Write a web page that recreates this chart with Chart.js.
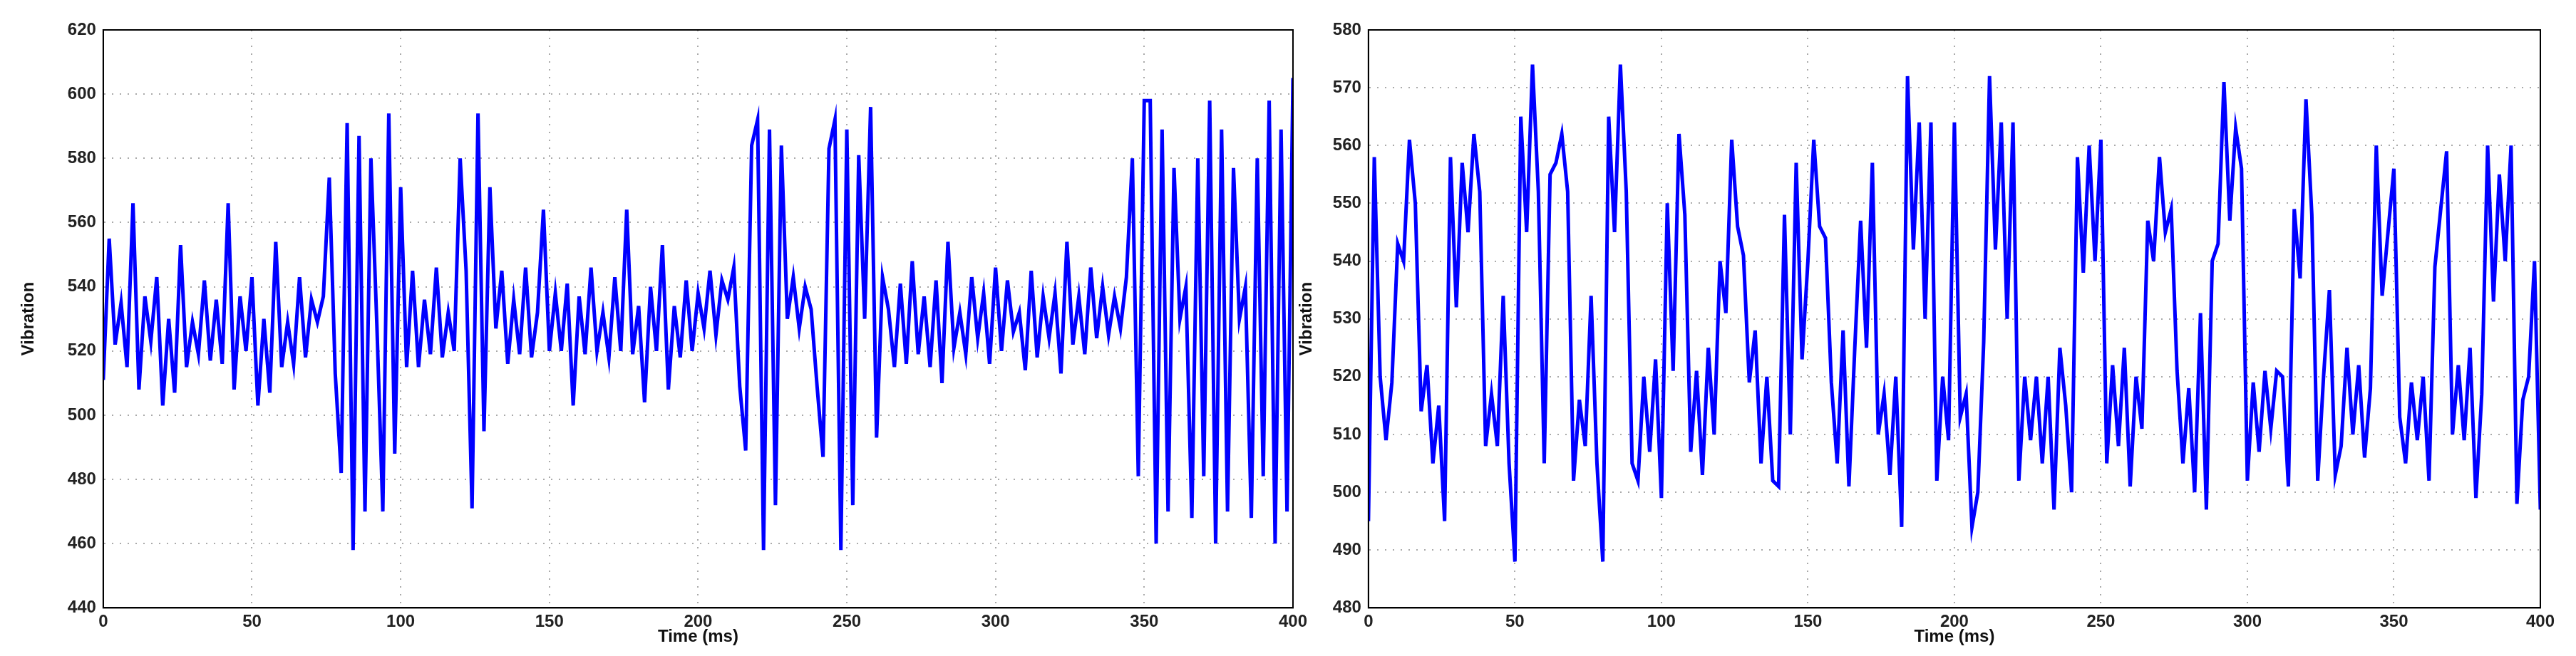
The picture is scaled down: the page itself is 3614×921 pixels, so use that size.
<!DOCTYPE html>
<html><head><meta charset="utf-8">
<script src="https://cdn.jsdelivr.net/npm/chart.js@4/dist/chart.umd.min.js"></script>
<style>body{margin:0;background:#fff;width:3614px;height:921px;overflow:hidden}
.c{position:absolute;top:0;height:921px}</style></head><body>
<div class="c" style="left:0;width:1840px"><canvas id="a"></canvas></div>
<div class="c" style="left:1790px;width:1824px"><canvas id="b"></canvas></div>
<script>
const timeMs=[0,2,4,6,8,10,12,14,16,18,20,22,24,26,28,30,32,34,36,38,40,42,44,46,48,50,52,54,56,58,60,62,64,66,68,70,72,74,76,78,80,82,84,86,88,90,92,94,96,98,100,102,104,106,108,110,112,114,116,118,120,122,124,126,128,130,132,134,136,138,140,142,144,146,148,150,152,154,156,158,160,162,164,166,168,170,172,174,176,178,180,182,184,186,188,190,192,194,196,198,200,202,204,206,208,210,212,214,216,218,220,222,224,226,228,230,232,234,236,238,240,242,244,246,248,250,252,254,256,258,260,262,264,266,268,270,272,274,276,278,280,282,284,286,288,290,292,294,296,298,300,302,304,306,308,310,312,314,316,318,320,322,324,326,328,330,332,334,336,338,340,342,344,346,348,350,352,354,356,358,360,362,364,366,368,370,372,374,376,378,380,382,384,386,388,390,392,394,396,398,400];
const vibLeft=[511,555,522,535,515,566,508,537,523,543,503,530,507,553,515,529,519,542,517,536,516,566,508,537,520,543,503,530,507,554,515,529,516,543,518,536,529,537,574,513,482,591,458,587,470,580,528,470,594,488,571,515,545,515,536,519,546,518,532,520,580,545,471,594,495,571,527,545,516,536,519,546,518,532,564,520,538,520,541,503,537,519,546,520,532,518,543,520,564,519,534,504,540,520,553,508,534,518,542,520,538,527,545,525,542,536,546,509,489,584,592,458,589,472,584,530,543,527,540,533,509,487,583,592,458,589,472,581,530,596,493,543,533,515,541,516,548,519,537,515,542,510,554,521,532,519,543,524,538,516,546,520,542,526,532,514,545,518,537,524,538,513,554,522,537,519,546,524,540,525,537,527,543,580,481,598,598,460,589,470,577,530,540,468,580,481,598,460,589,470,577,530,540,468,580,481,598,460,589,470,605];
const vibRight=[495,558,520,509,519,543,540,561,550,514,522,505,515,495,558,532,557,545,562,552,508,517,508,534,505,488,565,545,574,552,505,555,557,562,552,502,516,508,534,505,488,565,545,574,552,505,502,520,507,523,499,550,521,562,548,507,521,503,525,510,540,531,561,546,541,519,528,505,520,502,501,548,510,557,523,540,561,546,544,519,505,528,501,525,547,525,557,510,517,503,520,494,572,542,564,530,564,502,520,509,564,513,517,494,500,526,572,542,564,530,564,502,520,509,520,505,520,497,525,515,500,558,538,560,540,561,505,522,508,525,501,520,511,547,540,558,545,549,521,505,518,500,531,497,540,543,571,547,563,556,502,519,507,521,511,521,520,501,549,537,568,548,502,520,535,503,508,525,510,522,506,518,560,534,545,556,513,505,519,509,520,502,539,549,559,510,522,509,525,499,517,560,533,555,540,560,498,516,520,540,497];
const yTicksLeft=[440,460,480,500,520,540,560,580,600,620];
const yTicksRight=[480,490,500,510,520,530,540,550,560,570,580];
const xTicks=[0,50,100,150,200,250,300,350,400];
const font={family:'"Liberation Sans", Arial, sans-serif',size:24,weight:'bold'};
function mk(id,vals,ymin,ymax,padL,padR,tpad){
 new Chart(document.getElementById(id),{type:'line',
  data:{datasets:[{data:timeMs.map((t,i)=>({x:t,y:vals[i]})),borderColor:'#0000ff',borderWidth:5,pointRadius:0,tension:0}]},
  options:{responsive:true,maintainAspectRatio:false,animation:false,
   layout:{padding:{left:padL,right:padR,top:42,bottom:12}},
   plugins:{legend:{display:false},tooltip:{enabled:false}},
   scales:{
    x:{type:'linear',min:0,max:400,afterBuildTicks:a=>{a.ticks=xTicks.map(v=>({value:v}))},
     border:{display:true,color:'#000',width:2,dash:[2,9]},
     grid:{color:'#aaa',lineWidth:2,drawTicks:false},
     ticks:{color:'#222',font:font,padding:6,maxRotation:0},
     title:{display:true,text:'Time (ms)',color:'#111',font:font,padding:{top:-14,bottom:0}}},
    y:{min:ymin,max:ymax,afterBuildTicks:a=>{a.ticks=(ymin===440?yTicksLeft:yTicksRight).map(v=>({value:v}))},
     border:{display:true,color:'#000',width:2,dash:[2,9]},
     grid:{color:'#aaa',lineWidth:2,drawTicks:false},
     ticks:{color:'#222',font:font,padding:10},
     title:{display:true,text:'Vibration',color:'#111',font:font,padding:{bottom:tpad}}}}},
  plugins:[{id:'box',afterDraw(c){const a=c.chartArea,x=c.ctx;x.save();x.strokeStyle='#000';x.lineWidth=2;x.strokeRect(a.left,a.top,a.right-a.left,a.bottom-a.top);x.restore();}}]
 });
}
mk('a',vibLeft,440,620,22,22,30);
mk('b',vibRight,480,580,25,50,12);
</script></body></html>
